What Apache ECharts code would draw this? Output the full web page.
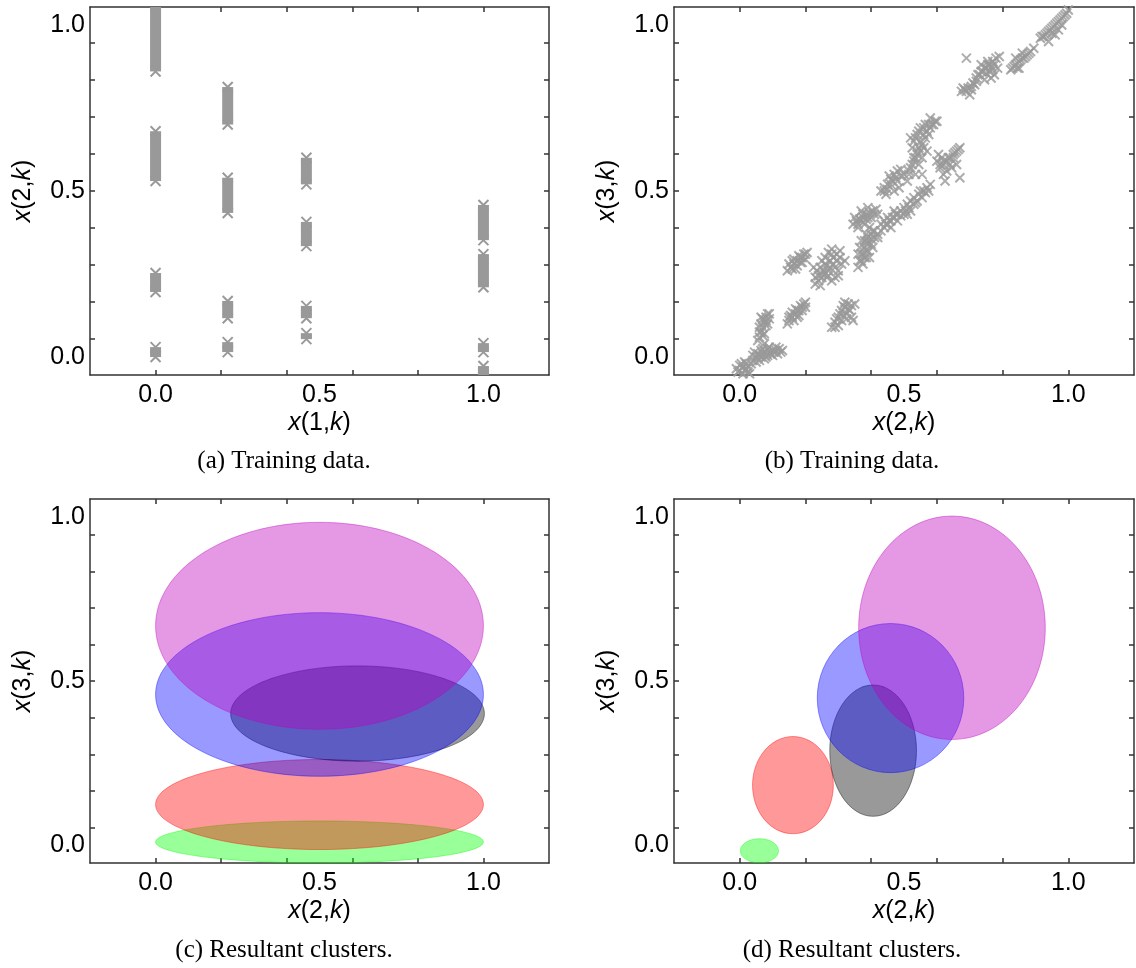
<!DOCTYPE html>
<html>
<head>
<meta charset="utf-8">
<script src="https://cdn.jsdelivr.net/npm/echarts@6/dist/echarts.min.js"></script>
<style>
html, body { margin: 0; padding: 0; background: #fff; }
#main { width: 1136px; height: 968px; }
</style>
</head>
<body>
<div id="main"></div>
<script>
// tick positions
var xTickValues = [0, 0.2, 0.4, 0.6, 0.8, 1.0];
var xLabelValues = [0, 0.5, 1.0];
var yTickValues = [0.054, 0.166, 0.277, 0.389, 0.5, 0.611, 0.723, 0.834, 0.946];
var yLabelValues = [0, 0.5, 1.0];

// (a) stacks of markers: [x(1,k), lowest x(2,k), highest x(2,k)]
var stacksA = [
    [0, 0.86, 1.06], [0, 0.53, 0.68], [0, 0.196, 0.253], [0, 0.0, 0.03],
    [0.22, 0.70, 0.813], [0.22, 0.434, 0.54], [0.22, 0.117, 0.169], [0.22, 0.015, 0.045],
    [0.46, 0.52, 0.60], [0.46, 0.334, 0.407], [0.46, 0.117, 0.154], [0.46, 0.054, 0.072],
    [1.0, 0.352, 0.458], [1.0, 0.21, 0.31], [1.0, 0.015, 0.042], [1.0, -0.06, -0.027]
];

// (b) training points: [x(2,k), x(3,k)]
var pointsB = [
    [0.0, -0.04], [0.01, -0.03], [0.02, -0.02], [0.01, -0.05], [0.025, -0.045], [-0.005, -0.055], [0.015, -0.015], [-0.01, -0.035], [0.02, -0.035],
    [0.005, -0.02], [0.015, -0.04], [0.025, -0.03], [-0.005, -0.045], [0.0, -0.025], [0.03, -0.05],
    [0.04, -0.01], [0.05, 0.0], [0.06, 0.005], [0.07, 0.01], [0.08, 0.012], [0.09, 0.015], [0.1, 0.02], [0.11, 0.02], [0.12, 0.025],
    [0.06, -0.01], [0.08, 0.0], [0.1, 0.005], [0.045, 0.015], [0.07, 0.025], [0.09, 0.03], [0.115, 0.01], [0.035, -0.02], [0.075, -0.005],
    [0.05, -0.015], [0.055, 0.01], [0.065, 0.0], [0.085, 0.005], [0.095, 0.01], [0.105, 0.015], [0.125, 0.015], [0.13, 0.02],
    [0.11, 0.03], [0.085, 0.025], [0.065, 0.02], [0.04, 0.005],
    [0.06, 0.06], [0.065, 0.075], [0.07, 0.09], [0.075, 0.105], [0.08, 0.12], [0.085, 0.13], [0.06, 0.09], [0.075, 0.07], [0.09, 0.115],
    [0.07, 0.115], [0.055, 0.05], [0.08, 0.095], [0.075, 0.04],
    [0.065, 0.1], [0.07, 0.065], [0.08, 0.11], [0.085, 0.1], [0.065, 0.12], [0.09, 0.13], [0.06, 0.075],
    [0.15, 0.11], [0.16, 0.12], [0.17, 0.13], [0.18, 0.14], [0.19, 0.15], [0.195, 0.16], [0.16, 0.135], [0.175, 0.12], [0.185, 0.155],
    [0.145, 0.1], [0.2, 0.165], [0.17, 0.145],
    [0.155, 0.125], [0.165, 0.11], [0.175, 0.14], [0.18, 0.125], [0.19, 0.14], [0.2, 0.15], [0.15, 0.12],
    [0.28, 0.09], [0.29, 0.105], [0.3, 0.12], [0.31, 0.14], [0.32, 0.15], [0.33, 0.16], [0.34, 0.155], [0.325, 0.13], [0.31, 0.11],
    [0.34, 0.12], [0.335, 0.14], [0.3, 0.095], [0.32, 0.165], [0.35, 0.16], [0.345, 0.11],
    [0.29, 0.09], [0.305, 0.13], [0.315, 0.125], [0.33, 0.145], [0.315, 0.155], [0.325, 0.115], [0.295, 0.115],
    [0.145, 0.26], [0.155, 0.27], [0.165, 0.28], [0.175, 0.29], [0.185, 0.3], [0.195, 0.31], [0.205, 0.315], [0.17, 0.265], [0.19, 0.285],
    [0.16, 0.29], [0.18, 0.305], [0.2, 0.295],
    [0.15, 0.28], [0.16, 0.265], [0.175, 0.275], [0.185, 0.285], [0.19, 0.3], [0.2, 0.31], [0.165, 0.295],
    [0.23, 0.22], [0.24, 0.23], [0.25, 0.24], [0.26, 0.25], [0.27, 0.26], [0.245, 0.215], [0.255, 0.26], [0.265, 0.275], [0.275, 0.29],
    [0.285, 0.3], [0.295, 0.31], [0.305, 0.32], [0.26, 0.3], [0.27, 0.315], [0.28, 0.325], [0.29, 0.27], [0.3, 0.26], [0.31, 0.28],
    [0.32, 0.29], [0.225, 0.27], [0.235, 0.26], [0.25, 0.29], [0.29, 0.24], [0.28, 0.23], [0.3, 0.245],
    [0.24, 0.245], [0.25, 0.25], [0.265, 0.24], [0.27, 0.245], [0.275, 0.27], [0.285, 0.28], [0.26, 0.28], [0.245, 0.27],
    [0.295, 0.29], [0.305, 0.3], [0.28, 0.31], [0.23, 0.24],
    [0.36, 0.27], [0.37, 0.29], [0.375, 0.31], [0.38, 0.33], [0.39, 0.35], [0.4, 0.37], [0.41, 0.38], [0.38, 0.3], [0.39, 0.32],
    [0.395, 0.3], [0.4, 0.34], [0.405, 0.33], [0.37, 0.35], [0.365, 0.33], [0.385, 0.37], [0.395, 0.39], [0.42, 0.36], [0.375, 0.28],
    [0.36, 0.31], [0.37, 0.31], [0.385, 0.32], [0.39, 0.34], [0.4, 0.355], [0.41, 0.36], [0.38, 0.35], [0.39, 0.36], [0.405, 0.38],
    [0.365, 0.29], [0.385, 0.3],
    [0.345, 0.4], [0.355, 0.41], [0.365, 0.415], [0.375, 0.42], [0.385, 0.43], [0.395, 0.435], [0.405, 0.44], [0.415, 0.445],
    [0.36, 0.39], [0.38, 0.4], [0.4, 0.42], [0.42, 0.43], [0.35, 0.42], [0.37, 0.44], [0.39, 0.45],
    [0.37, 0.41], [0.385, 0.415], [0.39, 0.42], [0.41, 0.43], [0.36, 0.4], [0.375, 0.43],
    [0.42, 0.37], [0.43, 0.38], [0.44, 0.39], [0.45, 0.4], [0.46, 0.41], [0.47, 0.42], [0.48, 0.43], [0.49, 0.44], [0.5, 0.45],
    [0.51, 0.46], [0.52, 0.47], [0.53, 0.48], [0.545, 0.49], [0.56, 0.5], [0.57, 0.51], [0.58, 0.52], [0.44, 0.41], [0.46, 0.39],
    [0.48, 0.41], [0.5, 0.43], [0.52, 0.44], [0.43, 0.4], [0.47, 0.44], [0.55, 0.5], [0.51, 0.43],
    [0.445, 0.4], [0.455, 0.41], [0.465, 0.42], [0.475, 0.43], [0.49, 0.425], [0.505, 0.44], [0.515, 0.45], [0.535, 0.465],
    [0.54, 0.47], [0.555, 0.48], [0.565, 0.495], [0.575, 0.5], [0.45, 0.42], [0.53, 0.46],
    [0.43, 0.5], [0.44, 0.51], [0.45, 0.52], [0.46, 0.535], [0.47, 0.55], [0.48, 0.56], [0.49, 0.565], [0.455, 0.545], [0.47, 0.5],
    [0.485, 0.51], [0.445, 0.49], [0.5, 0.55],
    [0.44, 0.5], [0.45, 0.505], [0.46, 0.52], [0.465, 0.53], [0.475, 0.54], [0.48, 0.53], [0.49, 0.545],
    [0.51, 0.53], [0.515, 0.55], [0.52, 0.57], [0.53, 0.59], [0.54, 0.61], [0.545, 0.63], [0.55, 0.65], [0.56, 0.67], [0.57, 0.68],
    [0.58, 0.69], [0.59, 0.7], [0.6, 0.71], [0.52, 0.66], [0.53, 0.65], [0.54, 0.67], [0.55, 0.69], [0.565, 0.7], [0.53, 0.6],
    [0.545, 0.58], [0.555, 0.6], [0.56, 0.63], [0.57, 0.62], [0.535, 0.55], [0.525, 0.63], [0.58, 0.72], [0.555, 0.55],
    [0.515, 0.56], [0.525, 0.58], [0.535, 0.6], [0.54, 0.62], [0.55, 0.62], [0.555, 0.64], [0.565, 0.66], [0.575, 0.67],
    [0.585, 0.7], [0.595, 0.71], [0.535, 0.66], [0.545, 0.68], [0.56, 0.69], [0.575, 0.7],
    [0.6, 0.59], [0.61, 0.57], [0.62, 0.58], [0.63, 0.59], [0.64, 0.6], [0.65, 0.61], [0.66, 0.62], [0.67, 0.63], [0.62, 0.55],
    [0.63, 0.56], [0.66, 0.58], [0.605, 0.61], [0.67, 0.54], [0.625, 0.53], [0.645, 0.57],
    [0.61, 0.58], [0.62, 0.59], [0.635, 0.6], [0.65, 0.6], [0.655, 0.615], [0.665, 0.625], [0.615, 0.6], [0.64, 0.58],
    [0.675, 0.8], [0.685, 0.805], [0.695, 0.81], [0.705, 0.815], [0.715, 0.82], [0.7, 0.79], [0.72, 0.83], [0.69, 0.9],
    [0.68, 0.81], [0.69, 0.8], [0.705, 0.805], [0.71, 0.825],
    [0.72, 0.84], [0.73, 0.85], [0.74, 0.86], [0.75, 0.87], [0.76, 0.88], [0.77, 0.89], [0.78, 0.9], [0.79, 0.905], [0.745, 0.835],
    [0.765, 0.84], [0.775, 0.85], [0.76, 0.86], [0.785, 0.87], [0.735, 0.88], [0.755, 0.89],
    [0.725, 0.85], [0.735, 0.86], [0.745, 0.87], [0.755, 0.88], [0.765, 0.875], [0.775, 0.88], [0.75, 0.855], [0.77, 0.865],
    [0.825, 0.865], [0.835, 0.875], [0.845, 0.885], [0.855, 0.895], [0.865, 0.9], [0.875, 0.91], [0.885, 0.92], [0.895, 0.93],
    [0.84, 0.9], [0.86, 0.915], [0.85, 0.87],
    [0.83, 0.87], [0.84, 0.88], [0.85, 0.89], [0.86, 0.9], [0.87, 0.905], [0.88, 0.915], [0.845, 0.87],
    [0.915, 0.96], [0.925, 0.965], [0.935, 0.975], [0.945, 0.985], [0.955, 0.995], [0.965, 1.005], [0.975, 1.015], [0.985, 1.025],
    [0.995, 1.035], [1.0, 1.045], [0.94, 0.95], [0.96, 0.97], [0.98, 1.0], [0.97, 0.985],
    [0.92, 0.965], [0.93, 0.97], [0.94, 0.98], [0.95, 0.99], [0.96, 1.0], [0.97, 1.01], [0.98, 1.02], [0.99, 1.03], [0.95, 0.975]
];

// clusters, drawn in this order: [centre x, centre y, half width, half height]
var clusterColors = ['rgb(0,255,0)', 'rgb(255,0,0)', 'rgb(0,0,0)', 'rgb(0,0,255)', 'rgb(191,0,191)'];
var clustersC = [[0.5, 0.01, 0.5, 0.064], [0.5, 0.124, 0.5, 0.137], [0.616, 0.401, 0.387, 0.145], [0.5, 0.459, 0.5, 0.249], [0.5, 0.668, 0.5, 0.315]];
var clustersD = [[0.06, -0.017, 0.058, 0.037], [0.162, 0.183, 0.123, 0.148], [0.406, 0.288, 0.132, 0.2], [0.459, 0.448, 0.223, 0.227], [0.646, 0.662, 0.284, 0.34]];

var captions = ['(a) Training data.', '(b) Training data.', '(c) Resultant clusters.', '(d) Resultant clusters.'];
var xNames = ['1', '2', '2', '2'];
var yNames = ['2', '3', '3', '3'];

var axisColor = '#333';
var markColor = '#999';
var sans = 'Liberation Sans';
var serif = 'Liberation Serif';

var grids = [
    {left: 90, top: 7, width: 459, height: 368},
    {left: 674, top: 7, width: 460, height: 368},
    {left: 90, top: 499, width: 459, height: 364},
    {left: 674, top: 499, width: 460, height: 364}
];
var captionPos = [[284, 461], [852, 461], [284, 950], [852, 950]];

function fmt(v) { return v.toFixed(1); }

function nameStyle() {
    return {
        fontSize: 25, fontFamily: sans, color: '#000',
        rich: {i: {fontSize: 25, fontFamily: sans, color: '#000', fontStyle: 'italic'}}
    };
}

var lineStyle = {color: axisColor, width: 1.5};
var xAxis = [], yAxis = [];
grids.forEach(function (g, gi) {
    xAxis.push({
        gridIndex: gi, type: 'value', position: 'bottom', min: -0.2, max: 1.2,
        axisLine: {show: true, onZero: false, lineStyle: lineStyle},
        axisTick: {show: true, inside: true, length: 5, customValues: xTickValues, lineStyle: lineStyle},
        axisLabel: {customValues: xLabelValues, formatter: fmt, margin: 8, color: '#000', fontSize: 25, fontFamily: sans},
        splitLine: {show: false},
        name: '{i|x}(' + xNames[gi] + ',{i|k})', nameLocation: 'middle', nameGap: 36, nameTextStyle: nameStyle()
    });
    xAxis.push({
        gridIndex: gi, type: 'value', position: 'top', min: -0.2, max: 1.2,
        axisLine: {show: true, onZero: false, lineStyle: lineStyle},
        axisTick: {show: true, inside: true, length: 5, customValues: xTickValues, lineStyle: lineStyle},
        axisLabel: {show: false}, splitLine: {show: false}
    });
    yAxis.push({
        gridIndex: gi, type: 'value', position: 'left', min: -0.054, max: 1.054,
        axisLine: {show: true, onZero: false, lineStyle: lineStyle},
        axisTick: {show: true, inside: true, length: 5, customValues: yTickValues, lineStyle: lineStyle},
        axisLabel: {customValues: yLabelValues, formatter: fmt, margin: 5, color: '#000', fontSize: 25, fontFamily: sans},
        splitLine: {show: false},
        name: '{i|x}(' + yNames[gi] + ',{i|k})', nameLocation: 'middle', nameGap: 54, nameTextStyle: nameStyle()
    });
    yAxis.push({
        gridIndex: gi, type: 'value', position: 'right', min: -0.054, max: 1.054,
        axisLine: {show: true, onZero: false, lineStyle: lineStyle},
        axisTick: {show: true, inside: true, length: 5, customValues: yTickValues, lineStyle: lineStyle},
        axisLabel: {show: false}, splitLine: {show: false}
    });
});

function crossAt(p, h) {
    var st = {stroke: markColor, lineWidth: 2};
    return [
        {type: 'line', shape: {x1: p[0] - h, y1: p[1] - h, x2: p[0] + h, y2: p[1] + h}, style: st},
        {type: 'line', shape: {x1: p[0] - h, y1: p[1] + h, x2: p[0] + h, y2: p[1] - h}, style: st}
    ];
}

function renderStack(params, api) {
    var top = api.coord([api.value(0), api.value(2)]);
    var bot = api.coord([api.value(0), api.value(1)]);
    var h = 5;
    var w = 2 * h + 1;
    var kids = [{type: 'rect', shape: {x: top[0] - w / 2, y: top[1], width: w, height: bot[1] - top[1]}, style: {fill: markColor}}];
    return {type: 'group', children: kids.concat(crossAt(top, h), crossAt(bot, h))};
}

function renderEllipse(params, api) {
    var c = api.coord([api.value(0), api.value(1)]);
    var s = api.size([api.value(2), api.value(3)]);
    var col = clusterColors[params.dataIndex];
    return {
        type: 'ellipse',
        shape: {cx: c[0], cy: c[1], rx: s[0], ry: s[1]},
        style: {fill: col, stroke: col, lineWidth: 1, opacity: 0.4}
    };
}

var myChart = echarts.init(document.getElementById('main'));
var option = {
    animation: false,
    backgroundColor: '#fff',
    grid: grids,
    xAxis: xAxis,
    yAxis: yAxis,
    graphic: captions.map(function (t, i) {
        return {
            type: 'text', x: captionPos[i][0], y: captionPos[i][1],
            style: {text: t, fontSize: 25, fontFamily: serif, fill: '#000', align: 'center', verticalAlign: 'middle'}
        };
    }),
    series: [{
        type: 'custom', xAxisIndex: 0, yAxisIndex: 0, clip: true,
        renderItem: renderStack, data: stacksA
    }, {
        type: 'scatter', xAxisIndex: 2, yAxisIndex: 2, clip: true,
        symbol: 'path://M0,0L10,10M10,0L0,10', symbolSize: 9,
        itemStyle: {color: 'none', borderColor: markColor, borderWidth: 2},
        data: pointsB
    }, {
        type: 'custom', xAxisIndex: 4, yAxisIndex: 4, clip: true,
        renderItem: renderEllipse, data: clustersC
    }, {
        type: 'custom', xAxisIndex: 6, yAxisIndex: 6, clip: true,
        renderItem: renderEllipse, data: clustersD
    }]
};
myChart.setOption(option);
window.addEventListener('resize', function () { myChart.resize(); });
</script>
</body>
</html>
